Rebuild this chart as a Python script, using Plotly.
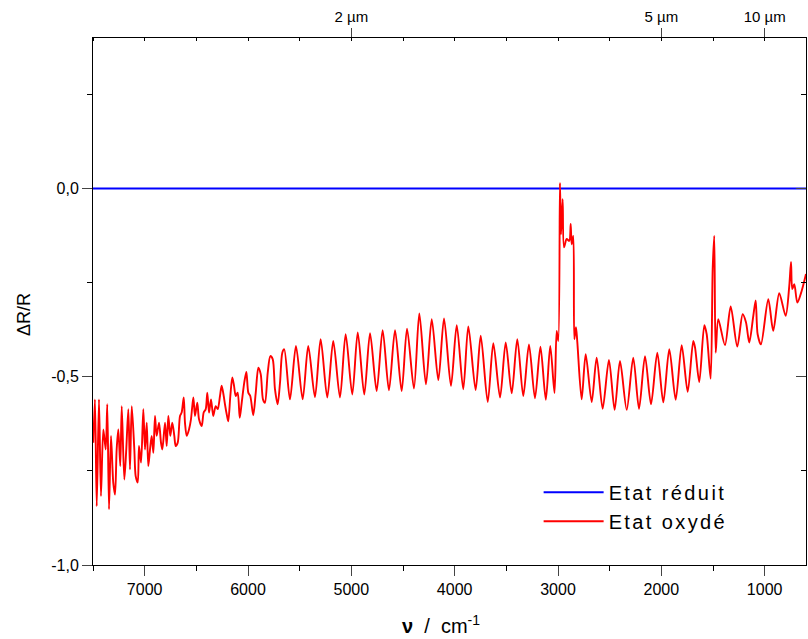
import plotly.graph_objects as go

# Wavenumber (cm^-1) and ΔR/R for the oxidised state
wn_ox = [7497, 7481, 7464, 7442, 7423, 7400, 7377, 7362, 7345, 7326, 7304, 7287, 7271, 7255, 7236, 7222,
         7197, 7178, 7158, 7142, 7125, 7100, 7087, 7067, 7055, 7035, 7013, 6997, 6980, 6965, 6948, 6932,
         6916, 6900, 6884, 6861, 6842, 6829, 6803, 6787, 6771, 6752, 6733, 6713, 6700, 6680, 6658, 6642,
         6622, 6610, 6593, 6571, 6552, 6529, 6513, 6491, 6474, 6448, 6429, 6409, 6394, 6377, 6358, 6336,
         6313, 6293, 6271, 6255, 6235, 6223, 6203, 6191, 6171, 6152, 6135, 6119, 6100, 6080, 6061, 6036,
         6016, 5997, 5978, 5949, 5925, 5900, 5877, 5855, 5836, 5809, 5784, 5761, 5739, 5713, 5690, 5668,
         5649, 5594, 5536, 5471, 5417, 5352, 5297, 5233, 5175, 5110, 5055, 4991, 4938, 4875, 4819, 4755,
         4697, 4636, 4577, 4513, 4461, 4394, 4342, 4278, 4222, 4158, 4103, 4036, 3980, 3917, 3868, 3797,
         3748, 3680, 3626, 3561, 3506, 3448, 3394, 3336, 3281, 3223, 3170, 3118, 3075, 3034, 3013, 2997,
         2981, 2971, 2955, 2942, 2916, 2891, 2877, 2868, 2852, 2842, 2826, 2813, 2771, 2732, 2674, 2626,
         2568, 2507, 2452, 2400, 2335, 2272, 2216, 2158, 2100, 2039, 1981, 1923, 1861, 1803, 1745, 1691,
         1674, 1633, 1584, 1561, 1523, 1503, 1488, 1474, 1449, 1384, 1329, 1265, 1213, 1181, 1149, 1110,
         1087, 1068, 1036, 965, 917, 859, 797, 762, 745, 733, 713, 684, 642, 600]
dr_ox = [-0.675, -0.560, -0.844, -0.560, -0.817, -0.640, -0.693, -0.573, -0.852, -0.657, -0.781, -0.813,
         -0.693, -0.640, -0.737, -0.578, -0.773, -0.693, -0.586, -0.746, -0.578, -0.693, -0.764, -0.781,
         -0.684, -0.728, -0.586, -0.693, -0.622, -0.737, -0.693, -0.657, -0.702, -0.604, -0.657, -0.622,
         -0.675, -0.693, -0.622, -0.684, -0.604, -0.657, -0.622, -0.657, -0.684, -0.675, -0.604, -0.595,
         -0.555, -0.622, -0.657, -0.640, -0.613, -0.555, -0.604, -0.569, -0.613, -0.631, -0.595, -0.586,
         -0.542, -0.595, -0.560, -0.604, -0.578, -0.586, -0.551, -0.524, -0.551, -0.573, -0.604, -0.618,
         -0.551, -0.502, -0.524, -0.551, -0.542, -0.609, -0.569, -0.515, -0.487, -0.542, -0.551, -0.602,
         -0.542, -0.476, -0.493, -0.560, -0.569, -0.489, -0.445, -0.453, -0.533, -0.573, -0.515, -0.436,
         -0.427, -0.560, -0.418, -0.560, -0.418, -0.554, -0.400, -0.555, -0.405, -0.555, -0.387, -0.547,
         -0.382, -0.547, -0.384, -0.538, -0.376, -0.536, -0.376, -0.538, -0.372, -0.531, -0.332, -0.520,
         -0.347, -0.509, -0.345, -0.524, -0.363, -0.533, -0.366, -0.535, -0.391, -0.567, -0.411, -0.555,
         -0.409, -0.544, -0.400, -0.551, -0.414, -0.557, -0.420, -0.561, -0.418, -0.543, -0.378, -0.405,
         0.015, -0.121, -0.028, -0.156, -0.134, -0.139, -0.094, -0.148, -0.126, -0.400, -0.368, -0.408,
         -0.560, -0.440, -0.567, -0.449, -0.585, -0.455, -0.588, -0.458, -0.588, -0.449, -0.585, -0.445,
         -0.573, -0.436, -0.568, -0.427, -0.561, -0.416, -0.540, -0.405, -0.422, -0.514, -0.363, -0.387,
         -0.505, -0.214, -0.126, -0.436, -0.347, -0.416, -0.313, -0.420, -0.334, -0.355, -0.409, -0.338,
         -0.297, -0.387, -0.414, -0.294, -0.378, -0.278, -0.338, -0.259, -0.195, -0.267, -0.254, -0.303,
         -0.272, -0.227]

# Reduced state (reference, flat)
wn_red = [7500, 600]
dr_red = [0.0, 0.0]

# Axis ticks
x_ticks = [7000, 6000, 5000, 4000, 3000, 2000, 1000]
y_ticks = [0.0, -0.5, -1.0]
y_ticklabels = ["0,0", "-0,5", "-1,0"]
y_minor = [0.25, -0.25, -0.75]
um_ticks = [5000, 2000, 1000]
um_labels = ["2 µm", "5 µm", "10 µm"]

FONT = "Liberation Sans, Arial, sans-serif"

fig = go.Figure()
fig.add_trace(go.Scatter(x=wn_red, y=dr_red, mode="lines", name="Etat réduit",
                         line=dict(color="#0000ff", width=2)))
fig.add_trace(go.Scatter(x=wn_ox, y=dr_ox, mode="lines", name="Etat oxydé",
                         line=dict(color="#ff0000", width=1.9, shape="spline", smoothing=0.8)))
# invisible trace to carry the top / right axes
fig.add_trace(go.Scatter(x=wn_red, y=dr_red, xaxis="x2", yaxis="y2", mode="lines",
                         line=dict(width=0), showlegend=False, hoverinfo="skip"))

fig.update_layout(
    width=808, height=639,
    margin=dict(l=93, r=2, t=38, b=74),
    paper_bgcolor="white", plot_bgcolor="white",
    font=dict(family=FONT, size=16, color="black"),
    showlegend=True,
    legend=dict(x=0.625, y=0.175, xanchor="left", yanchor="top",
                bgcolor="rgba(0,0,0,0)", itemwidth=60, tracegroupgap=0,
                font=dict(family=FONT, size=20)),
    xaxis=dict(range=[7500, 600], tickvals=x_ticks, ticks="outside", ticklen=10, tickwidth=1,
               showline=True, linecolor="black", linewidth=1, showgrid=False, zeroline=False,
               automargin=False, tickfont=dict(size=16),
               minor=dict(dtick=500, tick0=0, ticks="outside", ticklen=5, tickcolor="black")),
    xaxis2=dict(range=[7500, 600], overlaying="x", side="top", tickvals=um_ticks,
                ticktext=um_labels, ticks="outside", ticklen=9, tickwidth=1,
                showline=True, linecolor="black", linewidth=1, showgrid=False, zeroline=False,
                automargin=False, tickfont=dict(size=15),
                minor=dict(dtick=500, tick0=0, ticks="inside", ticklen=3, tickcolor="black")),
    yaxis=dict(range=[-1.0, 0.4], tickvals=y_ticks, ticktext=y_ticklabels, ticks="outside",
               ticklen=10, tickwidth=1, showline=True, linecolor="black", linewidth=1,
               showgrid=False, zeroline=False, automargin=False, tickfont=dict(size=16),
               minor=dict(tickvals=y_minor, ticks="outside", ticklen=5, tickcolor="black")),
    yaxis2=dict(range=[-1.0, 0.4], overlaying="y", side="right", tickvals=y_ticks,
                showticklabels=False, ticks="inside", ticklen=10, tickwidth=1,
                showline=True, linecolor="black", linewidth=1, showgrid=False, zeroline=False,
                automargin=False,
                minor=dict(tickvals=y_minor, ticks="inside", ticklen=5, tickcolor="black")),
    annotations=[
        dict(text="ΔR/R", xref="paper", yref="paper", x=-0.097, y=0.476,
             xanchor="center", yanchor="middle", textangle=-90, showarrow=False,
             font=dict(family=FONT, size=18)),
        dict(text="<b>ν</b>  /  cm<sup>-1</sup>", xref="paper", yref="paper", x=0.488, y=-0.112,
             xanchor="center", yanchor="middle", showarrow=False,
             font=dict(family=FONT, size=20)),
    ],
)

post = (
    "document.body.style.margin='0';"
    "document.body.style.overflow='hidden';"
    "document.querySelectorAll('.legend [clip-path]').forEach(function(e){e.removeAttribute('clip-path');});"
    "document.querySelectorAll('.legendtext').forEach(function(e){e.style.letterSpacing='2.4px';});"
)
fig.write_html("out.html", post_script=post, config={"displayModeBar": False})
